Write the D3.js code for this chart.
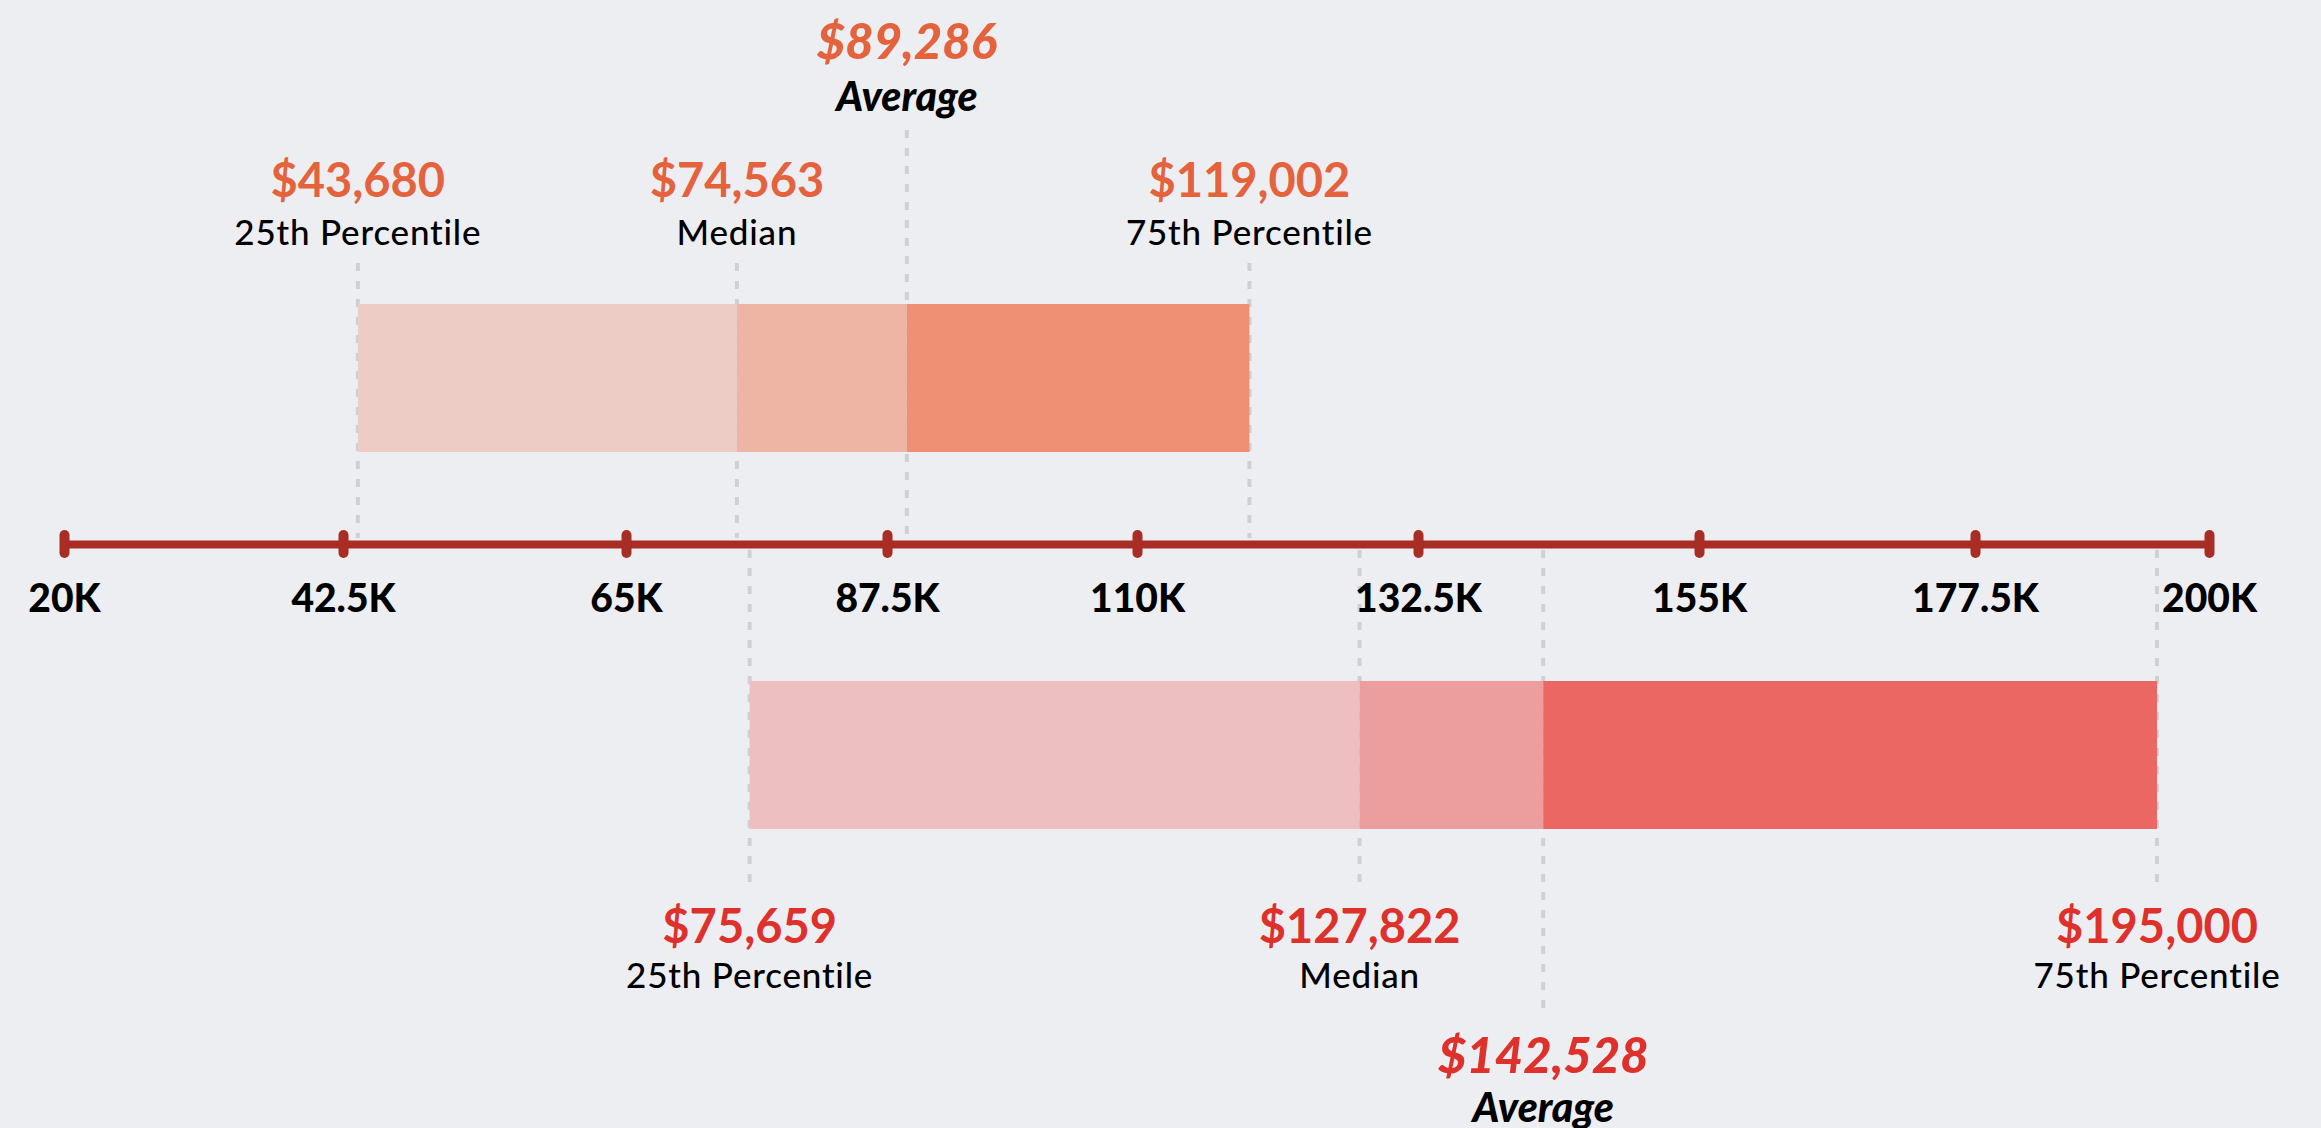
<!DOCTYPE html>
<html>
<head>
<meta charset="utf-8">
<script src="https://cdn.jsdelivr.net/npm/d3@7"></script>
<style>
  html, body { margin: 0; padding: 0; background: #edeef2; }
  svg { display: block; font-family: Lato, "Open Sans", sans-serif; }
</style>
</head>
<body>
<svg class="rangechart" width="2321" height="1128"></svg>
<script>

// axis ticks
let tickValues = [20000, 42500, 65000, 87500, 110000, 132500, 155000, 177500, 200000];
let tickLabels = ["20K", "42.5K", "65K", "87.5K", "110K", "132.5K", "155K", "177.5K", "200K"];

// the four stats, same order for both rows
let statNames = ["25th Percentile", "Median", "Average", "75th Percentile"];
let topValues = [43680, 74563, 89286, 119002];
let bottomValues = [75659, 127822, 142528, 195000];

let drawRangeChart = function()
{
  let svg = d3.select("body").select(".rangechart");
  let axisY = 544;
  let axisColor = "#a82d24";
  let dashColor = "#cfd0d3";

  // the ticks in the source graphic are not evenly spaced,
  // so use a piecewise linear scale through each tick
  let x = d3.scaleLinear()
    .domain(tickValues)
    .range([64, 343, 626, 887, 1137, 1418, 1699, 1975, 2209]);

  let money = v => "$" + d3.format(",")(v);

  let rows = [
    {
      values: topValues,
      accent: "#e4633d",
      fills: ["#edccc5", "#efb5a4", "#ef8f73"],
      barTop: 304, barBottom: 452,
      above: true
    },
    {
      values: bottomValues,
      accent: "#df312c",
      fills: ["#edbfc1", "#ec9e9e", "#eb6764"],
      barTop: 681, barBottom: 829,
      above: false
    }
  ];

  let dashes = svg.append("g").attr("id", "dashes");
  let bars = svg.append("g").attr("id", "bars");
  let labels = svg.append("g").attr("id", "labels");

  rows.forEach(function(row) {
    // dashed guide lines, drawn first so the bars cover them
    dashes.selectAll(null)
      .data(row.values)
      .join("line")
        .attr("x1", d => x(d))
        .attr("x2", d => x(d))
        .attr("y1", (d, i) => row.above ? (i == 2 ? 130 : 263) : axisY + 6)
        .attr("y2", (d, i) => row.above ? axisY - 6 : (i == 2 ? 1017 : 888))
        .attr("stroke", dashColor)
        .attr("stroke-width", 4)
        .attr("stroke-dasharray", "8,10");

    // stacked range segments: 25th -> median -> average -> 75th
    bars.selectAll(null)
      .data(d3.pairs(row.values))
      .join("rect")
        .attr("x", d => x(d[0]))
        .attr("width", d => x(d[1]) - x(d[0]))
        .attr("y", row.barTop)
        .attr("height", row.barBottom - row.barTop)
        .attr("fill", (d, i) => row.fills[i]);

    // value + name labels
    let g = labels.selectAll(null)
      .data(row.values)
      .join("g")
        .attr("transform", d => translate(x(d), 0));

    let valueY = (d, i) => row.above ? (i == 2 ? 59 : 197) : (i == 2 ? 1073 : 943);
    let nameY = (d, i) => row.above ? (i == 2 ? 111 : 245) : (i == 2 ? 1122 : 988);

    g.append("text")
      .attr("y", valueY)
      .attr("text-anchor", "middle")
      .attr("fill", row.accent)
      .style("font-size", (d, i) => i == 2 ? "49px" : "47px")
      .style("font-weight", (d, i) => i == 2 ? 900 : 700)
      .style("font-style", (d, i) => i == 2 ? "italic" : "normal")
      .text(d => money(d));

    g.append("text")
      .attr("y", nameY)
      .attr("text-anchor", "middle")
      .attr("fill", "#000")
      .style("font-size", (d, i) => i == 2 ? "41px" : "35px")
      .style("font-weight", (d, i) => i == 2 ? 900 : 500)
      .style("font-style", (d, i) => i == 2 ? "italic" : "normal")
      .style("letter-spacing", (d, i) => i == 2 ? "0px" : "0.8px")
      .text((d, i) => statNames[i]);
  });

  // the axis itself
  let xAxis = d3.axisBottom(x)
    .tickValues(tickValues)
    .tickFormat((d, i) => tickLabels[i])
    .tickSizeOuter(0);

  let xGroup = svg.append("g")
    .attr("id", "x-axis")
    .attr("transform", translate(0, axisY))
    .call(xAxis)
    .attr("font-family", null)
    .attr("font-size", null);

  xGroup.select(".domain")
    .attr("stroke", axisColor)
    .attr("stroke-width", 8);

  xGroup.selectAll(".tick line")
    .attr("y1", -9)
    .attr("y2", 9)
    .attr("stroke", axisColor)
    .attr("stroke-width", 10)
    .attr("stroke-linecap", "round");

  xGroup.selectAll(".tick text")
    .attr("y", 68)
    .attr("dy", null)
    .attr("fill", "#000")
    .style("font-size", "39px")
    .style("font-weight", 900);
};

function translate(x, y) {
  return 'translate(' + x + ',' + y + ')';
}

drawRangeChart();
</script>
</body>
</html>
